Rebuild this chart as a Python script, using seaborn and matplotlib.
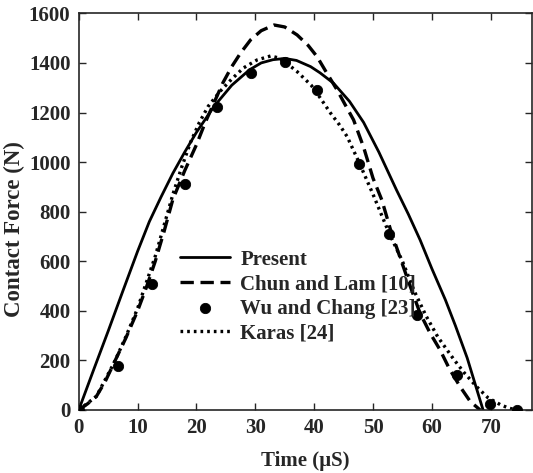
import numpy as np
import matplotlib
matplotlib.use("Agg")
import matplotlib.pyplot as plt
import seaborn as sns

# Data
present_t = [0, 2.5, 5, 7.5, 10, 12, 14, 16, 18, 20, 23, 26, 29, 31, 33, 35, 37, 39.4, 41,
             43.3, 46, 48.4, 51, 54, 56, 58, 60, 62.3, 64, 66, 68.7]
present_f = [0, 160, 318, 480, 640, 760, 860, 955, 1040, 1120, 1225, 1310, 1372, 1400, 1413,
             1418, 1410, 1385, 1360, 1318, 1245, 1160, 1040, 887, 790, 686, 570, 444, 340, 210, 0]

chun_t = [0, 1.5, 3, 4.5, 6, 8, 10, 11.5, 13, 14.5, 16, 18, 20, 21.5, 23, 24.5, 26, 27.5,
          29.2, 31, 33.2, 35, 37.1, 39, 40.5, 42, 43.9, 45.3, 46.7, 48.4, 50, 51.5, 53, 54.6,
          56, 58, 59.7, 61.4, 63, 64.8, 66.5, 68.2]
chun_f = [0, 25, 55, 115, 190, 290, 400, 495, 600, 720, 850, 965, 1070, 1160, 1240, 1320,
          1385, 1440, 1493, 1530, 1553, 1545, 1513, 1470, 1425, 1365, 1291, 1230, 1170, 1060,
          935, 847, 725, 615, 520, 390, 310, 242, 165, 94, 35, 0]

wu_t = [0, 6.6, 12.5, 18.1, 23.5, 29.3, 35.1, 40.4, 47.7, 52.8, 57.4, 64.2, 69.8, 74.4]
wu_f = [0, 177, 508, 912, 1221, 1361, 1402, 1291, 991, 710, 383, 141, 23, 0]

karas_t = [0, 3, 6, 8, 10, 13, 16, 17.5, 19, 20.5, 22, 24, 26, 28, 30.3, 32.6, 34, 35, 37.1,
           39.5, 41, 42.8, 44.3, 45.6, 47.7, 50, 52.7, 55, 57, 59, 61, 63.7, 65.5, 67.6,
           69.5, 71.6, 73, 74.4]
karas_f = [0, 55, 190, 295, 410, 620, 870, 980, 1080, 1160, 1225, 1285, 1335, 1380, 1412,
           1428, 1420, 1405, 1365, 1310, 1260, 1197, 1150, 1103, 995, 870, 715, 600, 480,
           380, 295, 205, 150, 94, 50, 22, 8, 0]

sns.set_style("ticks")
plt.rcParams['font.family'] = ['Liberation Serif', 'DejaVu Serif']
plt.rcParams['font.weight'] = 'bold'

fig = plt.figure(figsize=(5.33, 4.73), dpi=100)
ax = fig.add_axes([0.1477, 0.1332, 0.8503, 0.8386])

sns.lineplot(x=present_t, y=present_f, ax=ax, color='black', lw=2.0, sort=False,
             label='Present')
sns.lineplot(x=chun_t, y=chun_f, ax=ax, color='black', lw=2.4, sort=False,
             label='Chun and Lam [10]')
ax.lines[-1].set_dashes([4, 2])
sns.scatterplot(x=wu_t, y=wu_f, ax=ax, color='black', s=55, edgecolor='black',
                label='Wu and Chang [23]', zorder=5)
sns.lineplot(x=karas_t, y=karas_f, ax=ax, color='black', lw=2.4, sort=False,
             label='Karas [24]')
ax.lines[-1].set_dashes([0.8, 1.2])

ax.set_xlim(0, 77)
ax.set_ylim(0, 1600)
ax.set_xticks(np.arange(0, 71, 10))
ax.set_yticks(np.arange(0, 1601, 200))
ax.tick_params(direction='in', top=True, right=True, length=5, width=1,
               labelsize=15, pad=6)
for lab in ax.get_xticklabels() + ax.get_yticklabels():
    lab.set_fontweight('bold')
for sp in ax.spines.values():
    sp.set_visible(True)
    sp.set_linewidth(1.2)

ax.set_xlabel('Time (\u00b5S)', fontsize=15, fontweight='bold', labelpad=9)
ax.set_ylabel('Contact Force (N)', fontsize=16.5, fontweight='bold')
ax.yaxis.set_label_coords(-0.118, 0.456)

leg = ax.legend(loc='upper left', bbox_to_anchor=(0.205, 0.425), frameon=False,
                fontsize=15, handlelength=2.4, handletextpad=0.5,
                labelspacing=0.22, borderaxespad=0)
for t in leg.get_texts():
    t.set_fontweight('bold')

fig.savefig('out.png', dpi=100)
